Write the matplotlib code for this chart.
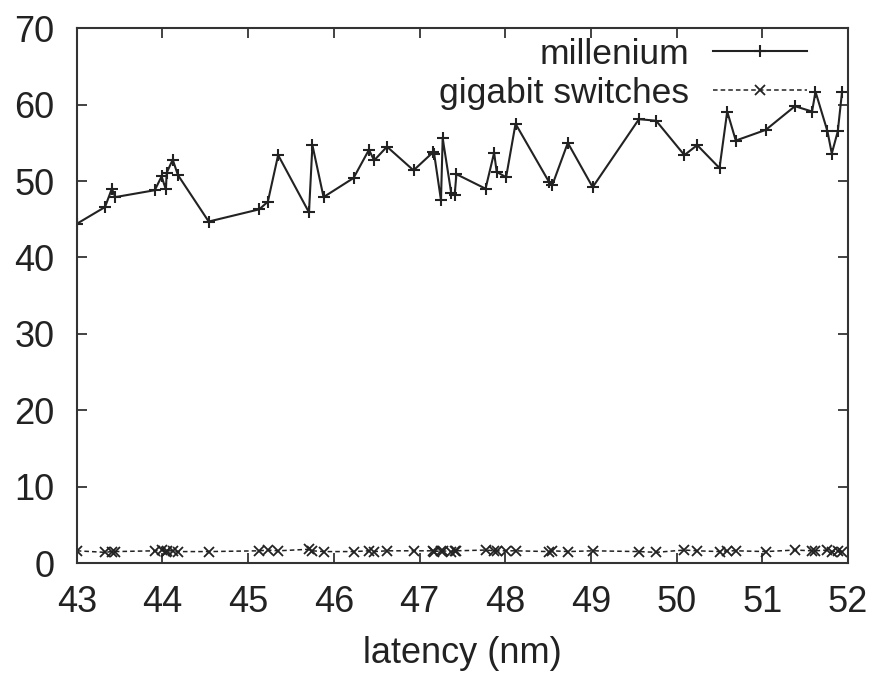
import matplotlib
matplotlib.use("Agg")
import matplotlib.pyplot as plt
import numpy as np

plt.rcParams['font.family'] = ['Liberation Sans', 'DejaVu Sans']

latency = [43.00, 43.33, 43.41, 43.45, 43.91, 43.99, 44.04, 44.05, 44.12, 44.18,
           44.54, 45.13, 45.23, 45.35, 45.71, 45.75, 45.88, 46.23, 46.41, 46.47,
           46.62, 46.93, 47.16, 47.17, 47.25, 47.27, 47.37, 47.41, 47.43, 47.77,
           47.87, 47.90, 48.01, 48.12, 48.51, 48.55, 48.73, 49.02, 49.56, 49.76,
           50.09, 50.24, 50.50, 50.59, 50.69, 51.04, 51.38, 51.58, 51.62, 51.76,
           51.81, 51.88, 51.93]

millenium = [44.4, 46.6, 49.0, 47.9, 48.8, 50.6, 48.9, 51.1, 52.8, 50.8,
             44.7, 46.3, 47.3, 53.4, 45.9, 54.7, 47.9, 50.4, 54.1, 52.7,
             54.5, 51.4, 53.8, 53.6, 47.5, 55.6, 48.4, 48.2, 50.9, 49.0,
             53.7, 51.2, 50.5, 57.5, 49.9, 49.5, 55.0, 49.2, 58.1, 57.9,
             53.4, 54.7, 51.7, 59.1, 55.3, 56.7, 59.8, 59.1, 61.7, 56.5,
             53.6, 56.5, 61.7]

gigabit = [1.6, 1.4, 1.5, 1.5, 1.6, 1.7, 1.5, 1.6, 1.6, 1.5,
           1.5, 1.6, 1.7, 1.6, 1.8, 1.6, 1.5, 1.5, 1.6, 1.5,
           1.6, 1.6, 1.6, 1.5, 1.6, 1.6, 1.5, 1.6, 1.6, 1.7,
           1.6, 1.6, 1.6, 1.6, 1.5, 1.6, 1.5, 1.6, 1.5, 1.4,
           1.7, 1.6, 1.5, 1.6, 1.6, 1.5, 1.7, 1.6, 1.6, 1.7,
           1.5, 1.6, 1.5]

fig = plt.figure(figsize=(8.77, 6.73), dpi=100)
ax = fig.add_axes([0.0875, 0.1634, 0.8795, 0.7946])

col = '#222222'
ax.plot(latency, millenium, '-', color=col, lw=1.5, marker='+', ms=9, mew=1.5,
        label='millenium')
ax.plot(latency, gigabit, '--', color=col, lw=1.1, marker='x', ms=7, mew=1.3,
        dashes=(3, 2), label='gigabit switches')

ax.set_xlim(43, 52)
ax.set_ylim(0, 70)
ax.set_xticks(np.arange(43, 53, 1))
ax.set_yticks(np.arange(0, 80, 10))
ax.tick_params(direction='in', length=7, width=1.2, top=True, right=True,
               labelsize=26, colors=col)
ax.tick_params(axis='x', pad=16)
ax.tick_params(axis='y', pad=16)
for s in ax.spines.values():
    s.set_linewidth(1.5)
    s.set_color('#333333')

ax.set_xlabel('latency (nm)', fontsize=26, color=col, labelpad=11)

ax.legend(loc='upper right', bbox_to_anchor=(0.947, 0.982), frameon=False,
          markerfirst=False, fontsize=25.5, handlelength=2.66, handletextpad=0.67,
          labelspacing=0.16, borderaxespad=0, borderpad=0, labelcolor=col)

fig.savefig('out.png', dpi=100)
